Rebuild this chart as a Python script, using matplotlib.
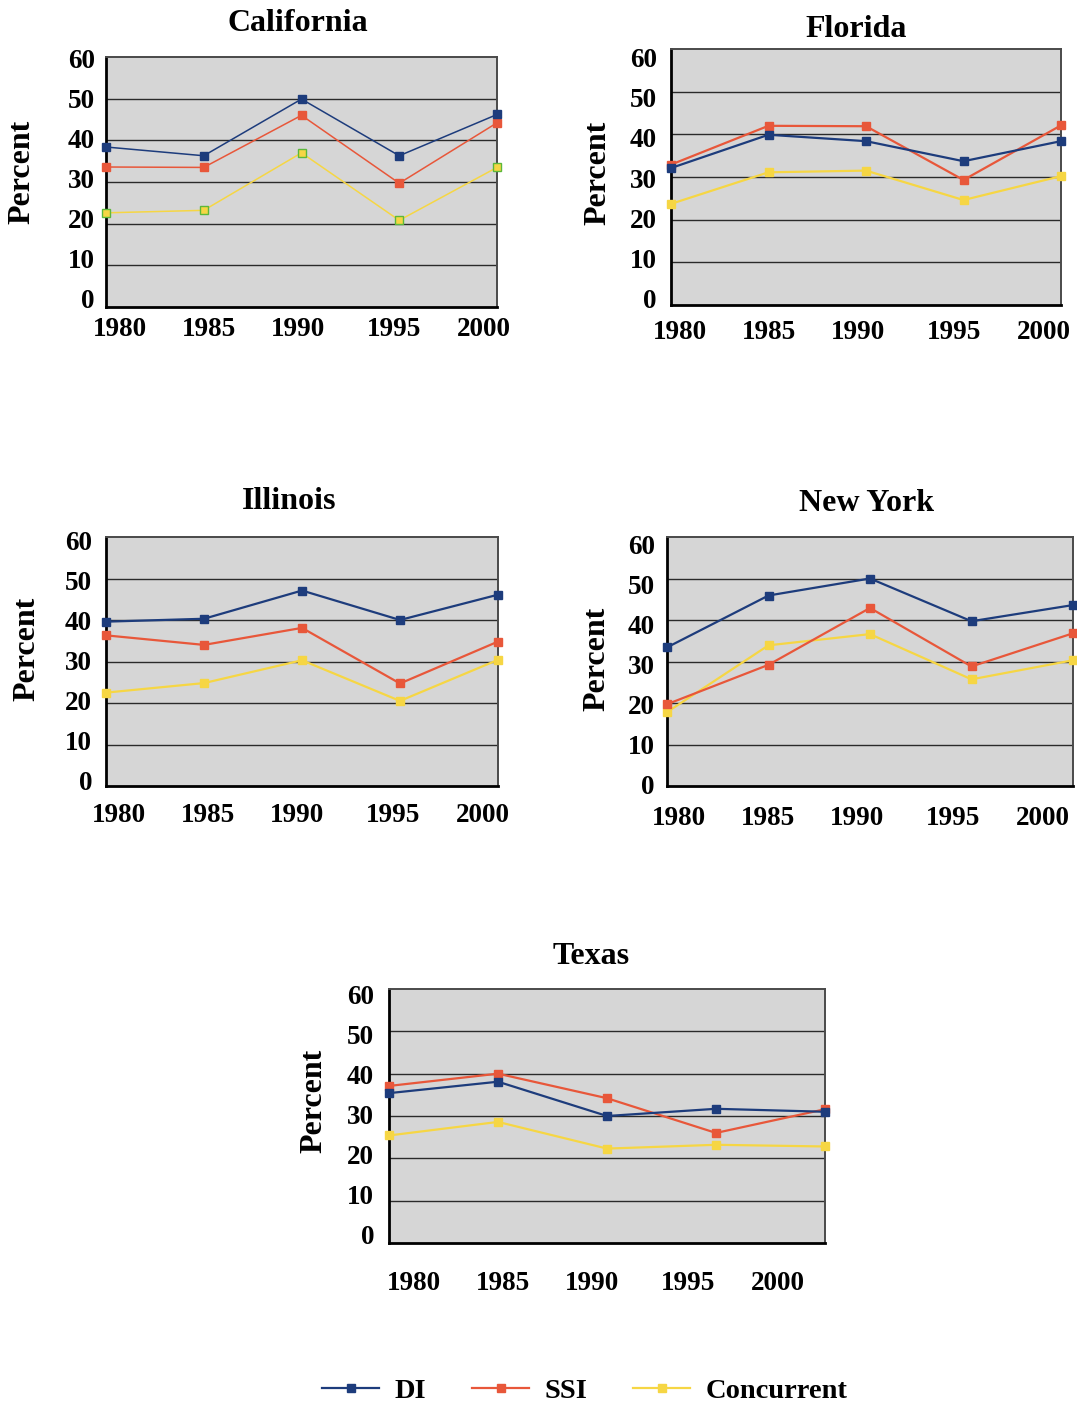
import matplotlib
matplotlib.use("Agg")
import matplotlib.pyplot as plt
from matplotlib.lines import Line2D

# ---- data -------------------------------------------------------------
years = [1980, 1985, 1990, 1995, 2000]
year_labels = ["1980", "1985", "1990", "1995", "2000"]
y_values = [60, 50, 40, 30, 20, 10, 0]
states = ["California", "Florida", "Illinois", "New York", "Texas"]
series_names = ["DI", "SSI", "Concurrent"]

california_di = [38.4, 36.3, 49.9, 36.3, 46.2]
california_ssi = [33.6, 33.5, 46.0, 29.7, 44.2]
california_conc = [22.6, 23.2, 37.0, 20.8, 33.5]

florida_di = [32.1, 39.9, 38.4, 33.7, 38.4]
florida_ssi = [32.9, 42.0, 41.9, 29.3, 42.1]
florida_conc = [23.7, 31.1, 31.5, 24.6, 30.2]

illinois_di = [39.6, 40.3, 47.1, 40.0, 46.1]
illinois_ssi = [36.3, 34.0, 38.1, 24.7, 34.8]
illinois_conc = [22.5, 24.8, 30.3, 20.5, 30.4]

newyork_di = [33.4, 45.9, 50.0, 39.7, 43.6]
newyork_ssi = [19.7, 29.2, 42.9, 28.8, 36.8]
newyork_conc = [17.8, 33.9, 36.6, 25.7, 30.3]

texas_di = [35.4, 38.1, 30.0, 31.7, 31.0]
texas_ssi = [37.1, 40.0, 34.2, 26.0, 31.6]
texas_conc = [25.4, 28.6, 22.3, 23.2, 22.8]

state_series = {
    "California": (california_di, california_ssi, california_conc),
    "Florida": (florida_di, florida_ssi, florida_conc),
    "Illinois": (illinois_di, illinois_ssi, illinois_conc),
    "New York": (newyork_di, newyork_ssi, newyork_conc),
    "Texas": (texas_di, texas_ssi, texas_conc),
}

# ---- styling & layout (pixels) ----------------------------------------
W, H = 1077, 1408
DPI = 100
COLORS = {"DI": "#1d3c7c", "SSI": "#e8573a", "Concurrent": "#f6d644"}
BG = "#d6d6d6"
SERIF = ["Liberation Serif", "DejaVu Serif"]

# left, top, right, bottom of each plot area
BOXES = {
    "California": (106, 57, 497, 307),
    "Florida": (671, 49, 1061, 305),
    "Illinois": (106, 537, 498, 786),
    "New York": (667, 537, 1073, 786),
    "Texas": (389, 989, 825, 1243),
}
TITLE_POS = {
    "California": (298, 31), "Florida": (856, 37), "Illinois": (289, 509),
    "New York": (867, 511), "Texas": (591, 964),
}
YLABEL_POS = {
    "California": (22, 172), "Florida": (598, 173), "Illinois": (27, 649),
    "New York": (597, 659), "Texas": (314, 1101),
}
# year labels sit at fixed pixel steps from the plot's left edge
XLABEL_STEPS = [0, 89, 178, 274, 364]
XLABEL_BASE = {"California": 14, "Florida": 9, "Illinois": 13, "New York": 12, "Texas": 25}
XLABEL_PAD = {"California": 10, "Florida": 15, "Illinois": 17, "New York": 20, "Texas": 28}
# value labels are spaced 40 px apart starting slightly below the top edge
YLABEL_STEP = 40
YLABEL_BASE = {"California": 1, "Florida": 9, "Illinois": 4, "New York": 7, "Texas": 6}
YLABEL_PAD = {"California": 11, "Florida": 14, "Illinois": 14, "New York": 12, "Texas": 15}
LINE_W = {"California": 1.1}
MARKER_EDGE = {"California": {"Concurrent": "#5cb83a"}}

px2pt = 72.0 / DPI

fig = plt.figure(figsize=(W / DPI, H / DPI), dpi=DPI)

for state in states:
    l, t, r, b = BOXES[state]
    ax = fig.add_axes([l / W, 1 - b / H, (r - l) / W, (b - t) / H])
    ax.set_facecolor(BG)
    ax.set_xlim(years[0], years[-1])
    ax.set_ylim(0, 60)

    for v in y_values[1:-1]:
        ax.axhline(v, color="#2a2a2a", lw=1.0, zorder=1)

    lw = LINE_W.get(state, 1.6)
    data = state_series[state]
    for idx in [2, 1, 0]:
        name = series_names[idx]
        edge = MARKER_EDGE.get(state, {}).get(name, COLORS[name])
        ax.plot(years, data[idx], color=COLORS[name], lw=lw, marker="s",
                ms=5.2, mfc=COLORS[name], mec=edge, mew=1.0,
                clip_on=False, zorder=3 + (2 - idx))

    width_px = r - l
    height_px = b - t
    span_x = years[-1] - years[0]
    xt = [years[0] + (XLABEL_BASE[state] + s) / width_px * span_x for s in XLABEL_STEPS]
    ax.set_xticks(xt, year_labels)
    yt = [60 - (YLABEL_BASE[state] + k * YLABEL_STEP) / height_px * 60 for k in range(len(y_values))]
    ax.set_yticks(yt, [str(v) for v in y_values])
    ax.tick_params(axis="x", length=0, pad=XLABEL_PAD[state] * px2pt)
    ax.tick_params(axis="y", length=0, pad=YLABEL_PAD[state] * px2pt)
    for lab in ax.get_xticklabels() + ax.get_yticklabels():
        lab.set_fontfamily(SERIF)
        lab.set_fontweight("bold")
        lab.set_fontsize(19.5)

    for side in ["top", "right"]:
        ax.spines[side].set_color("#4a4a4a")
        ax.spines[side].set_linewidth(1.4)
    for side in ["left", "bottom"]:
        ax.spines[side].set_color("black")
        ax.spines[side].set_linewidth(2.0)

    tx, ty = TITLE_POS[state]
    fig.text(tx / W, 1 - ty / H, state, ha="center", va="baseline",
             fontsize=23, fontweight="bold", family=SERIF)
    px_, py_ = YLABEL_POS[state]
    fig.text(px_ / W, 1 - py_ / H, "Percent", ha="center", va="center",
             rotation=90, fontsize=23, fontweight="bold", family=SERIF)

handles = [Line2D([], [], color=COLORS[n], lw=1.6, marker="s", ms=5.2,
                  mfc=COLORS[n], mec=COLORS[n]) for n in series_names]
leg = fig.legend(handles, series_names, loc="center", ncol=3,
                 bbox_to_anchor=(585 / W, 1 - 1391 / H), frameon=False,
                 handlelength=2.0, handletextpad=0.55, columnspacing=1.6,
                 prop={"family": SERIF, "weight": "bold", "size": 20.5})

fig.savefig("out.png", dpi=DPI)
